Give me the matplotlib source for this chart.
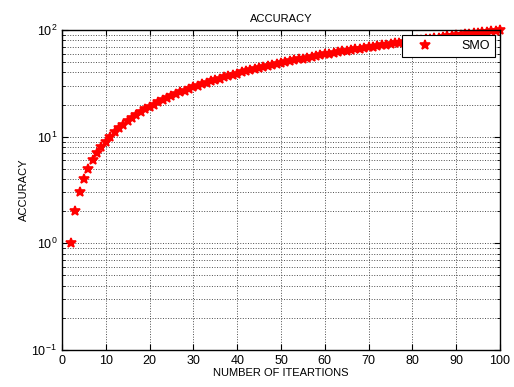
import matplotlib
matplotlib.use('Agg')
import matplotlib.pyplot as plt
from matplotlib.ticker import LogLocator, NullFormatter, MultipleLocator

plt.rcParams['font.family'] = ['Liberation Sans', 'DejaVu Sans']

iterations = [2, 3, 4, 5, 6, 7, 8, 9, 10, 11, 12, 13, 14, 15, 16, 17, 18, 19, 20,
              21, 22, 23, 24, 25, 26, 27, 28, 29, 30, 31, 32, 33, 34, 35, 36, 37, 38, 39, 40,
              41, 42, 43, 44, 45, 46, 47, 48, 49, 50, 51, 52, 53, 54, 55, 56, 57, 58, 59, 60,
              61, 62, 63, 64, 65, 66, 67, 68, 69, 70, 71, 72, 73, 74, 75, 76, 77, 78, 79, 80,
              81, 82, 83, 84, 85, 86, 87, 88, 89, 90, 91, 92, 93, 94, 95, 96, 97, 98, 99, 100]
accuracy = [1, 2, 3, 4, 5, 6, 7, 8, 9, 10, 11, 12, 13, 14, 15, 16, 17, 18, 19,
            20, 21, 22, 23, 24, 25, 26, 27, 28, 29, 30, 31, 32, 33, 34, 35, 36, 37, 38, 39,
            40, 41, 42, 43, 44, 45, 46, 47, 48, 49, 50, 51, 52, 53, 54, 55, 56, 57, 58, 59,
            60, 61, 62, 63, 64, 65, 66, 67, 68, 69, 70, 71, 72, 73, 74, 75, 76, 77, 78, 79,
            80, 81, 82, 83, 84, 85, 86, 87, 88, 89, 90, 91, 92, 93, 94, 95, 96, 97, 98, 99]

fig = plt.figure(figsize=(5.14, 3.87), dpi=100)
ax = fig.add_axes([0.1206, 0.0956, 0.8522, 0.8269])

ax.semilogy(iterations, accuracy, linestyle='none', marker='*', color='red',
            markersize=7, markeredgewidth=1.2, label='SMO', clip_on=False)

ax.set_xlim(0, 100)
ax.set_ylim(0.1, 100)
ax.xaxis.set_major_locator(MultipleLocator(10))
ax.yaxis.set_major_locator(LogLocator(base=10, numticks=10))
ax.yaxis.set_minor_locator(LogLocator(base=10, subs=range(2, 10), numticks=10))
ax.yaxis.set_minor_formatter(NullFormatter())

ax.grid(True, which='major', axis='both', color='0.3', linestyle=':', linewidth=0.7)
ax.grid(True, which='minor', axis='y', color='0.3', linestyle=':', linewidth=0.7)

ax.tick_params(which='both', direction='in', top=True, right=True, labelsize=9)
ax.tick_params(which='major', length=4)
ax.tick_params(which='minor', length=2)
for sp in ax.spines.values():
    sp.set_linewidth(1.0)

ax.set_title('ACCURACY', fontsize=8, pad=6)
ax.set_xlabel('NUMBER OF ITEARTIONS', fontsize=8, labelpad=1)
ax.set_ylabel('ACCURACY', fontsize=8, labelpad=2)

leg = ax.legend(loc='upper right', fontsize=9, fancybox=False, framealpha=1,
                edgecolor='black', borderaxespad=0.4, handlelength=3.0,
                handletextpad=1.4, borderpad=0.4)
leg.set_zorder(10)
leg.get_frame().set_linewidth(0.8)

fig.savefig('out.png', dpi=100)
